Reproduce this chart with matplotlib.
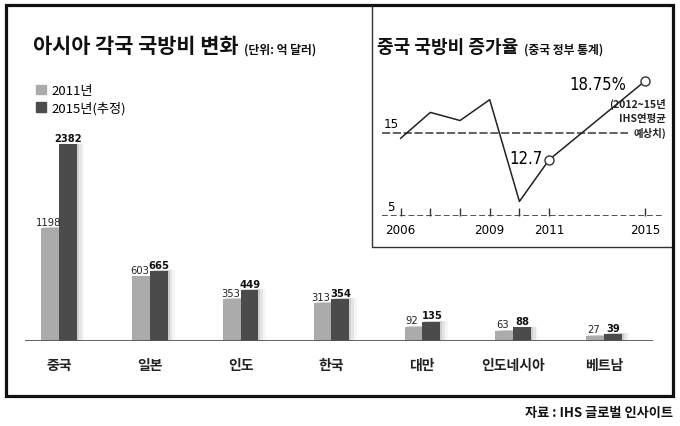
import numpy as np
import matplotlib.pyplot as plt
import matplotlib.patheffects as pe
from matplotlib.patches import Rectangle, Patch

plt.rcParams['font.family'] = ['Noto Sans CJK KR', 'DejaVu Sans']

# bar chart data (억 달러)
countries = ['중국', '일본', '인도', '한국', '대만', '인도네시아', '베트남']
spend_2011 = [1198, 603, 353, 313, 92, 63, 27]
spend_2015 = [2382, 665, 449, 354, 135, 88, 39]
series_labels = ['2011년', '2015년(추정)']

# China defence budget growth (%)
years = [2006, 2007, 2008, 2009, 2010, 2011, 2015]
growth = [14.6, 16.6, 16.0, 17.5, 7.8, 12.7, 18.75]
year_ticks = [2006, 2007, 2008, 2009, 2010, 2011, 2015]
year_labels = ['2006', '', '', '2009', '', '2011', '2015']

light = '#ababab'
dark = '#4b4b4b'
digits = dict(family=['DejaVu Sans', 'Noto Sans CJK KR'], stretch='condensed')

W, H = 680, 427
fig = plt.figure(figsize=(W / 100, H / 100), dpi=100)


def fbox(x0, y0, x1, y1):
    # pixel box, origin top-left -> figure fraction rect
    return [x0 / W, 1 - y1 / H, (x1 - x0) / W, (y1 - y0) / H]


# ---- bar chart ----
ax = fig.add_axes(fbox(25, 145, 653, 342))
p = 0.81
ax.set_yscale('function', functions=(lambda v: np.sign(v) * np.abs(v) ** p,
                                     lambda v: np.sign(v) * np.abs(v) ** (1 / p)))
x = np.arange(len(countries))
w = 0.195
shadow = [pe.SimplePatchShadow(offset=(1.5, 0.5), shadow_rgbFace='0.5', alpha=0.22),
          pe.SimplePatchShadow(offset=(3.5, 0.5), shadow_rgbFace='0.5', alpha=0.14),
          pe.SimplePatchShadow(offset=(5.5, 0.5), shadow_rgbFace='0.5', alpha=0.07),
          pe.Normal()]
ax.bar(x - w / 2, spend_2011, w, color=light, path_effects=shadow, zorder=2)
ax.bar(x + w / 2, spend_2015, w, color=dark, path_effects=shadow, zorder=2)
ax.axhline(0, color='#555555', lw=1.3, zorder=3)
ax.set_xlim(-0.374, 6.54)
ax.set_ylim(0, max(spend_2015))
ax.axis('off')

for i, c in enumerate(countries):
    ax.annotate(c, (i, 0), xytext=(0, -17), textcoords='offset points',
                ha='center', va='center', fontsize=10, fontweight='bold', color='#222')
for i in range(len(countries)):
    ax.annotate(str(spend_2011[i]), (x[i] - w / 2, spend_2011[i]), xytext=(-1, 1),
                textcoords='offset points', ha='center', va='bottom',
                fontsize=8, color='#222', annotation_clip=False, **digits)
    ax.annotate(str(spend_2015[i]), (x[i] + w / 2, spend_2015[i]), xytext=(0.5, 1),
                textcoords='offset points', ha='center', va='bottom',
                fontsize=8, fontweight='bold', color='#111',
                annotation_clip=False, **digits)

fig.legend(handles=[Patch(color=light), Patch(color=dark)], labels=series_labels,
           loc='upper left', bbox_to_anchor=(36 / W, 1 - 85 / H), frameon=False,
           handlelength=0.75, handleheight=0.75, handletextpad=0.4, labelspacing=0.3,
           borderpad=0, borderaxespad=0, prop={'size': 9.5})

t1 = fig.text(33 / W, 1 - 53 / H, '아시아 각국 국방비 변화', fontsize=15,
              fontweight='bold', va='baseline', color='#111')
ax.annotate('(단위: 억 달러)', xy=(1, 0), xycoords=t1, xytext=(4, 0),
            textcoords='offset points', va='bottom', fontsize=8.5,
            fontweight='bold', color='#111')

# ---- line chart inset ----
ax2 = fig.add_axes(fbox(382, 70, 663, 217.3))
k = 0.81
ax2.set_xscale('function', functions=(
    lambda t: np.where(t <= 2011, t, 2011 + (t - 2011) * k),
    lambda t: np.where(t <= 2011, t, 2011 + (t - 2011) / k)))
ax2.set_yscale('function', functions=(lambda v: np.sign(v) * v ** 2,
                                      lambda v: np.sign(v) * np.sqrt(np.abs(v))))
ax2.set_xlim(2005.37, 2015.74)
ax2.set_ylim(5, 19.5)

ax2.plot(years, growth, color='#222', lw=1.1, marker='o', markevery=[5, 6], ms=6.5,
         mfc='white', mec='#333', mew=1, zorder=4, clip_on=False)
ax2.axhline(15, xmin=0, xmax=0.875, color='#555', lw=1.3, ls=(0, (4.5, 1.5)), zorder=1)
ax2.axhline(5, color='#333', lw=1.2, ls=(0, (3.5, 1.8)), zorder=1)

ax2.set_xticks(year_ticks, year_labels)
ax2.set_yticks([])
ax2.minorticks_off()
ax2.tick_params(axis='x', direction='in', length=6, width=1, color='#333', pad=5,
                labelsize=9.5)
for lab in ax2.get_xticklabels():
    lab.set_family(digits['family'])
    lab.set_stretch('condensed')
for s in ax2.spines.values():
    s.set_visible(False)
ax2.patch.set_alpha(0)

ax2.annotate('15', (0, 15), xycoords=ax2.get_yaxis_transform(), xytext=(1, 2.5),
             textcoords='offset points', va='bottom', fontsize=9.5, **digits)
ax2.annotate('5', (0.015, 5), xycoords=ax2.get_yaxis_transform(), xytext=(1, 2.5),
             textcoords='offset points', va='bottom', fontsize=9.5, **digits)
ax2.annotate('12.7', (years[5], growth[5]), xytext=(-5, 1.5), textcoords='offset points',
             ha='right', va='center', fontsize=12, **digits)
ax2.annotate('18.75%', (years[6], growth[6]), xytext=(-14, -2), textcoords='offset points',
             ha='right', va='center', fontsize=12, **digits)
ax2.annotate('(2012~15년\nIHS연평균\n예상치)', (years[6], growth[6]), xytext=(15, -12),
             textcoords='offset points', ha='right', va='top', multialignment='right',
             fontsize=7.5, fontweight='bold', linespacing=1.5, color='#222')

t2 = fig.text(377 / W, 1 - 53 / H, '중국 국방비 증가율', fontsize=13,
              fontweight='bold', va='baseline', color='#111')
ax2.annotate('(중국 정부 통계)', xy=(1, 0), xycoords=t2, xytext=(4, 0),
             textcoords='offset points', va='bottom', fontsize=8.5,
             fontweight='bold', color='#111')

# frames
fig.patches.append(Rectangle((372 / W, 1 - 248 / H), (673 - 372) / W, (248 - 6) / H,
                             transform=fig.transFigure, fill=False, lw=1.0, ec='#333'))
fig.patches.append(Rectangle((6 / W, 1 - 397 / H), (673 - 6) / W, (397 - 6) / H,
                             transform=fig.transFigure, fill=False, lw=2.3, ec='#111'))

fig.text(673 / W, 1 - 413 / H, '자료 : IHS 글로벌 인사이트', ha='right', va='center',
         fontsize=9.5, fontweight='bold', color='#111')

fig.savefig('out.png', dpi=100)
